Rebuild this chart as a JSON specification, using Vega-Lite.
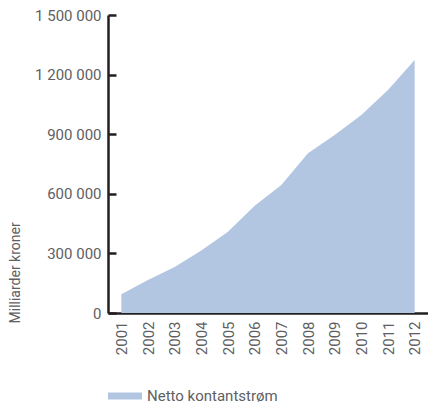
{
  "$schema": "https://vega.github.io/schema/vega-lite/v6.json",
  "width": 320,
  "height": 298,
  "autosize": {"type": "none"},
  "padding": {"left": 108, "top": 15, "right": 0, "bottom": 94},
  "background": "white",
  "config": {
    "view": {"stroke": null},
    "font": "Roboto",
    "axis": {"labelFont": "Roboto", "titleFont": "Roboto", "labelColor": "#606062", "titleColor": "#606062"}
  },
  "data": {
    "values": [
      {"year": "2001", "value": 95000, "series": "Netto kontantstrøm"},
      {"year": "2002", "value": 166000, "series": "Netto kontantstrøm"},
      {"year": "2003", "value": 231000, "series": "Netto kontantstrøm"},
      {"year": "2004", "value": 315000, "series": "Netto kontantstrøm"},
      {"year": "2005", "value": 409000, "series": "Netto kontantstrøm"},
      {"year": "2006", "value": 540000, "series": "Netto kontantstrøm"},
      {"year": "2007", "value": 644000, "series": "Netto kontantstrøm"},
      {"year": "2008", "value": 804000, "series": "Netto kontantstrøm"},
      {"year": "2009", "value": 896000, "series": "Netto kontantstrøm"},
      {"year": "2010", "value": 997000, "series": "Netto kontantstrøm"},
      {"year": "2011", "value": 1122000, "series": "Netto kontantstrøm"},
      {"year": "2012", "value": 1273000, "series": "Netto kontantstrøm"}
    ]
  },
  "resolve": {"axis": {"y": "independent"}},
  "layer": [
    {
      "mark": {"type": "area", "opacity": 1, "interpolate": "linear"},
      "encoding": {
        "x": {
          "field": "year",
          "type": "ordinal",
          "scale": {"type": "point", "padding": 0.5},
          "axis": {
            "title": null,
            "labelAngle": -90,
            "labelAlign": "right",
            "labelBaseline": "middle",
            "labelFontSize": 15,
            "labelPadding": 8,
            "ticks": false,
            "domainColor": "#231f20",
            "domainWidth": 2.5
          }
        },
        "y": {
          "field": "value",
          "type": "quantitative",
          "scale": {"domain": [0, 1500000], "nice": false, "zero": false},
          "axis": {
            "orient": "left",
            "title": "Milliarder kroner",
            "values": [0, 300000, 600000, 900000, 1200000, 1500000],
            "labelExpr": "replace(replace(format(datum.value, ','), ',', ' '), ',', ' ')",
            "labelFontSize": 15,
            "labelPadding": 7,
            "ticks": false,
            "domainColor": "#231f20",
            "domainWidth": 2.5,
            "grid": false,
            "titleFontSize": 14,
            "titleFontWeight": "normal",
            "titleAngle": -90,
            "titleAlign": "left",
            "titleBaseline": "middle",
            "titleX": -93,
            "titleY": 308
          }
        },
        "color": {
          "field": "series",
          "type": "nominal",
          "scale": {"range": ["#b2c5e1"]},
          "legend": {
            "title": null,
            "orient": "none",
            "legendX": 0,
            "legendY": 364,
            "symbolType": "M-1,-0.206H1V0.206H-1Z",
            "symbolSize": 1156,
            "symbolStrokeWidth": 0,
            "labelFontSize": 15,
            "labelColor": "#606062",
            "labelFont": "Roboto",
            "labelOffset": 5
          }
        }
      }
    },
    {
      "mark": {"type": "area", "opacity": 0},
      "encoding": {
        "x": {"field": "year", "type": "ordinal"},
        "y": {
          "field": "value",
          "type": "quantitative",
          "scale": {"domain": [0, 1500000], "nice": false, "zero": false},
          "axis": {
            "orient": "right",
            "offset": -320,
            "title": null,
            "labels": false,
            "domain": false,
            "grid": false,
            "values": [0, 300000, 600000, 900000, 1200000, 1500000],
            "tickSize": 8,
            "tickWidth": 2.5,
            "tickColor": "#231f20"
          }
        }
      }
    }
  ]
}
